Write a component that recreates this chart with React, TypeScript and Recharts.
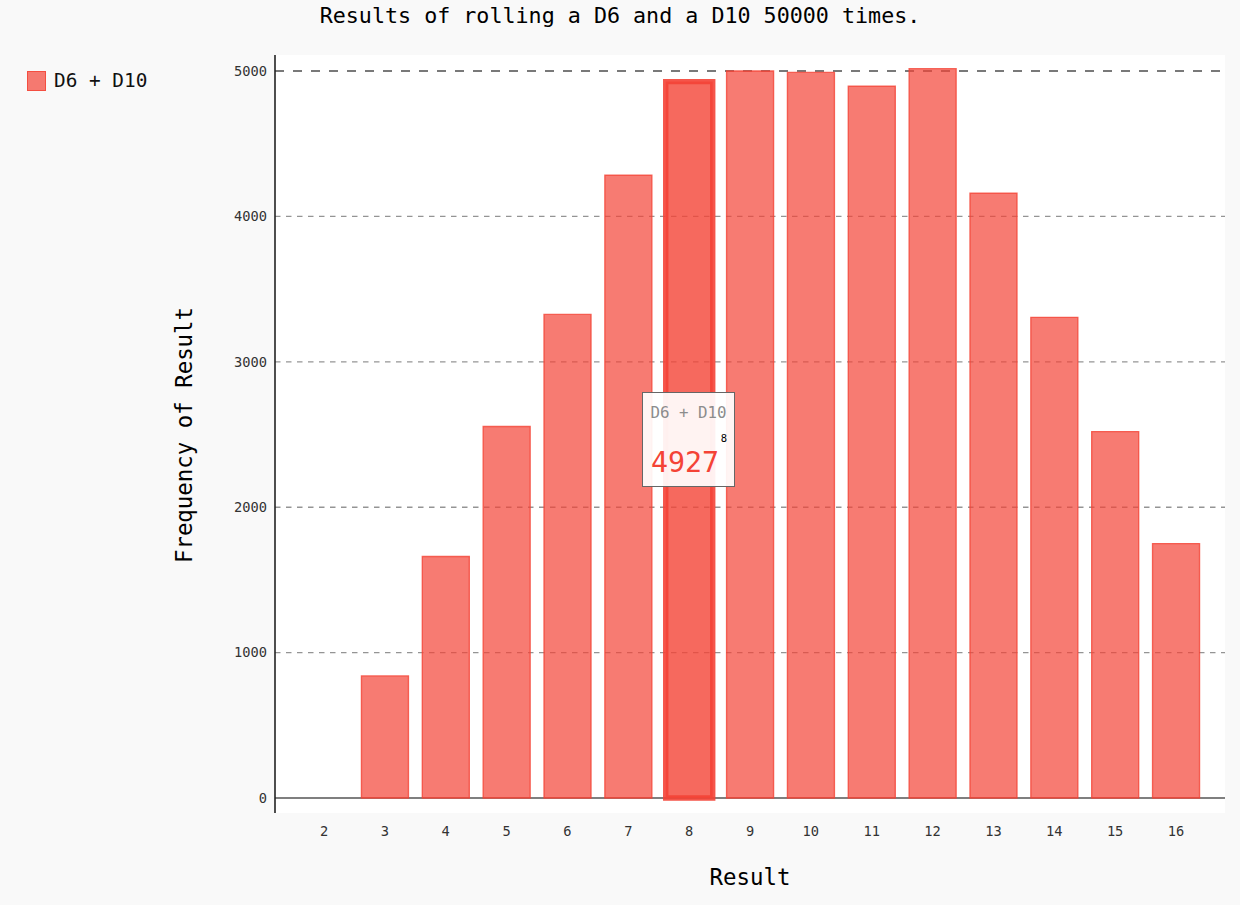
import React from 'react';
import {
  BarChart,
  Bar,
  XAxis,
  YAxis,
  CartesianGrid,
  Tooltip,
  Legend,
  Cell,
  Customized,
} from 'recharts';

// ---- data ----
const categories = ['2', '3', '4', '5', '6', '7', '8', '9', '10', '11', '12', '13', '14', '15', '16'];
const frequencies = [0, 840, 1661, 2555, 3326, 4283, 4927, 5000, 4990, 4895, 5016, 4159, 3306, 2520, 1750];
const yTicks = [0, 1000, 2000, 3000, 4000, 5000];
const seriesName = 'D6 + D10';
const chartTitle = 'Results of rolling a D6 and a D10 50000 times.';
const xTitle = 'Result';
const yTitle = 'Frequency of Result';
const highlightIndex = 6; // the hovered bar (result 8)

const data = categories.map((c, i) => ({ result: c, value: frequencies[i] }));

// ---- style ----
const FONT = "'DejaVu Sans Mono', 'Liberation Mono', monospace";
const RED = '#F44336';
const BG = '#f9f9f9';
const W = 1240;
const H = 905;
const PLOT_LEFT = 275;
const PLOT_RIGHT = 1225;
const PLOT_TOP = 55;
const PLOT_BOTTOM = 813;
const Y_AXIS_W = 70;
const X_AXIS_H = 30;

const renderGuide = (props: any) => {
  const { x1, x2, y1, y2, index } = props;
  const last = yTicks.length - 1;
  if (index === 0) {
    return <line key={`g${index}`} x1={x1} x2={x2} y1={y1} y2={y2} stroke="#555" strokeWidth={1.6} />;
  }
  if (index === last) {
    return (
      <line key={`g${index}`} x1={x1} x2={x2} y1={y1} y2={y2} stroke="rgba(0,0,0,0.7)" strokeWidth={1.6} strokeDasharray="9 9" />
    );
  }
  return (
    <line key={`g${index}`} x1={x1} x2={x2} y1={y1} y2={y2} stroke="rgba(0,0,0,0.42)" strokeWidth={1.35} strokeDasharray="5.5 5.5" />
  );
};

const TooltipBox = (props: any) => {
  const { payload, label } = props;
  if (!payload || !payload.length) return null;
  const v = payload[0].value;
  return (
    <div
      style={{
        width: 93,
        height: 95,
        boxSizing: 'border-box',
        border: '1.4px solid #666',
        background: 'rgba(255,255,255,0.92)',
        fontFamily: FONT,
        position: 'relative',
      }}
    >
      <div style={{ position: 'absolute', top: 10, left: 0, right: 0, textAlign: 'center', fontSize: 15.8, color: '#8c8c8c', lineHeight: '20px' }}>
        {payload[0].name}
      </div>
      <div style={{ position: 'absolute', top: 39, right: 7, fontSize: 10.5, color: '#000', lineHeight: '12px' }}>{label}</div>
      <div style={{ position: 'absolute', top: 54, left: 8, fontSize: 28.3, color: RED, lineHeight: '32px' }}>{v}</div>
    </div>
  );
};

const LegendBox = (props: any) => {
  const { payload } = props;
  return (
    <div style={{ fontFamily: FONT }}>
      {(payload || []).map((entry: any, i: number) => (
        <div key={i} style={{ display: 'flex', alignItems: 'center', height: 20 }}>
          <span
            style={{
              display: 'inline-block',
              width: 19,
              height: 20,
              boxSizing: 'border-box',
              background: 'rgba(244,67,54,0.7)',
              border: '1.35px solid rgba(244,67,54,0.8)',
            }}
          />
          <span style={{ marginLeft: 8, fontSize: 19.4, color: '#111', lineHeight: '20px' }}>{entry.value}</span>
        </div>
      ))}
    </div>
  );
};

const Titles = () => (
  <g fontFamily={FONT}>
    <text x={W / 2} y={23} textAnchor="middle" fontSize={21.7} fill="#000">
      {chartTitle}
    </text>
    <text x={(PLOT_LEFT + PLOT_RIGHT) / 2} y={885} textAnchor="middle" fontSize={22.4} fill="#000">
      {xTitle}
    </text>
    <text
      x={192}
      y={(PLOT_TOP + PLOT_BOTTOM) / 2 + 1}
      textAnchor="middle"
      fontSize={22.4}
      fill="#000"
      transform={`rotate(-90, 192, ${(PLOT_TOP + PLOT_BOTTOM) / 2 + 1})`}
    >
      {yTitle}
    </text>
  </g>
);

export default function App() {
  return (
    <div style={{ position: 'absolute', left: 0, top: 0, width: W, height: H, background: BG }}>
      <BarChart
        width={W}
        height={H}
        data={data}
        margin={{
          top: PLOT_TOP,
          right: W - PLOT_RIGHT,
          bottom: H - PLOT_BOTTOM - X_AXIS_H,
          left: PLOT_LEFT - Y_AXIS_W,
        }}
      >
        <CartesianGrid fill="#ffffff" vertical={false} horizontal={renderGuide} horizontalValues={yTicks} />
        <XAxis
          dataKey="result"
          height={X_AXIS_H}
          axisLine={false}
          tickLine={false}
          tickMargin={7}
          padding={{ left: 18.6, right: 18.6 }}
          interval={0}
          tick={{ fontFamily: FONT, fontSize: 13.7, fill: '#333' }}
        />
        <YAxis
          width={Y_AXIS_W}
          domain={[-103, 5110]}
          ticks={yTicks}
          allowDataOverflow
          axisLine={{ stroke: '#222', strokeWidth: 1.6 }}
          tickLine={false}
          tick={{ fontFamily: FONT, fontSize: 13.7, fill: '#333' }}
        />
        <Tooltip
          active
          defaultIndex={highlightIndex}
          cursor={false}
          isAnimationActive={false}
          position={{ x: 642, y: 392 }}
          content={TooltipBox}
          wrapperStyle={{ outline: 'none' }}
        />
        <Legend
          layout="vertical"
          align="center"
          verticalAlign="middle"
          wrapperStyle={{ left: 27, top: 71, width: 'auto', height: 'auto' }}
          content={LegendBox}
        />
        <Bar
          dataKey="value"
          name={seriesName}
          fill={RED}
          fillOpacity={0.7}
          stroke={RED}
          strokeOpacity={0.8}
          strokeWidth={1.35}
          barSize={47}
          isAnimationActive={false}
        >
          {data.map((d, i) => (
            <Cell
              key={d.result}
              fill={RED}
              stroke={RED}
              fillOpacity={i === highlightIndex ? 0.8 : 0.7}
              strokeOpacity={i === highlightIndex ? 0.9 : 0.8}
              strokeWidth={i === highlightIndex ? 5.4 : 1.35}
            />
          ))}
        </Bar>
        <Customized component={Titles} />
      </BarChart>
    </div>
  );
}
